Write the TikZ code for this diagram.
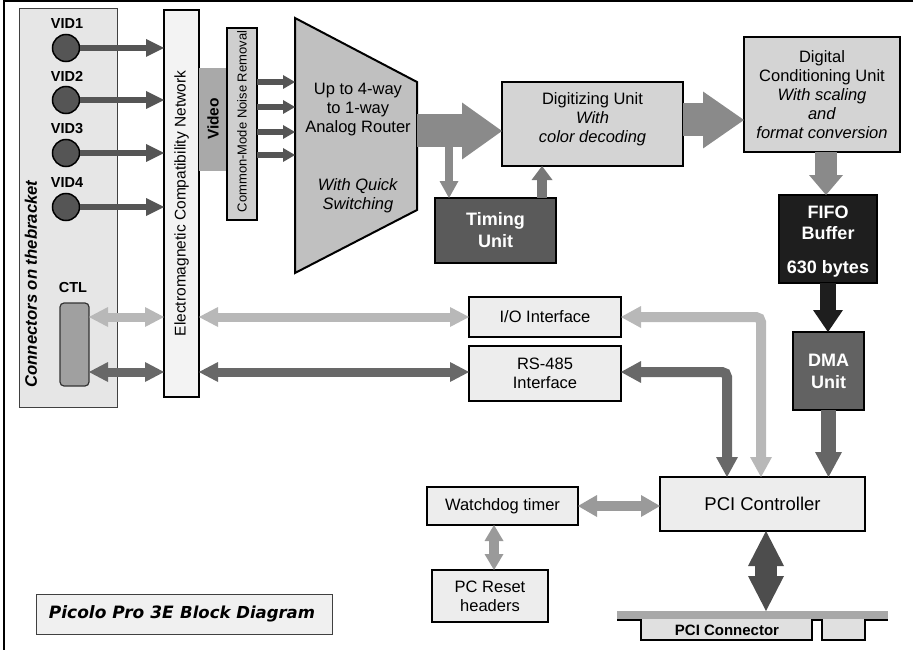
\documentclass[tikz,border=0pt]{standalone}
\usepackage{fontspec}
\setmainfont{Liberation Sans}
\newfontfamily\verdfont{DejaVu Sans}
\usetikzlibrary{arrows.meta,calc}

\definecolor{panelbg}{HTML}{E6E6E6}
\definecolor{emcc}{HTML}{F3F3F3}
\definecolor{boxlight}{HTML}{EDEDED}
\definecolor{boxmid}{HTML}{D4D4D4}
\definecolor{cmnrc}{HTML}{CFCFCF}
\definecolor{routerc}{HTML}{C0C0C0}
\definecolor{vband}{HTML}{A9A9A9}
\definecolor{circc}{HTML}{555555}
\definecolor{adark}{HTML}{555555}
\definecolor{amid}{HTML}{8A8A8A}
\definecolor{atim}{HTML}{777777}
\definecolor{alight}{HTML}{B8B8B8}
\definecolor{ars}{HTML}{686868}
\definecolor{awd}{HTML}{9A9A9A}
\definecolor{apci}{HTML}{4D4D4D}
\definecolor{adma}{HTML}{666666}
\definecolor{timingc}{HTML}{5A5A5A}
\definecolor{fifoc}{HTML}{1E1E1E}
\definecolor{dmac}{HTML}{626262}
\definecolor{ctlc}{HTML}{A0A0A0}
\definecolor{barc}{HTML}{A8A8A8}
\definecolor{tabc}{HTML}{E0E0E0}
\definecolor{titlec}{HTML}{F0F0F0}

\tikzset{
  fat/.style n args={4}{color=#1, line width=#2,
    -{Triangle[width=#3, length=#4, line width=0pt]}},
  fatt/.style n args={4}{color=#1, line width=#2,
    {Triangle[width=#3, length=#4, line width=0pt]}-{Triangle[width=#3, length=#4, line width=0pt]}},
  unit/.style={draw=black, line width=2pt, align=center},
}

\begin{document}
\begin{tikzpicture}[x=1pt, y=-1pt,
  every node/.style={inner sep=0pt, outer sep=0pt, font=\fontsize{16.5}{19}\selectfont}]
\useasboundingbox (0,0) rectangle (913,650);

% page frame
\draw[line width=1.2pt] (4,650) -- (4,1) -- (913,1);

% connector bracket
\node[draw=black!75, line width=1pt, fill=panelbg, minimum width=98pt, minimum height=398pt] (panel) at (68,208) {};
\node[rotate=90, font=\bfseries\itshape\fontsize{16.7}{19}\selectfont] (paneltitle) at (31,284) {Connectors on thebracket};

% EMC network
\node[unit, fill=emcc, minimum width=35pt, minimum height=387pt] (emc) at (181.5,203.5) {};
\node[rotate=90, font=\fontsize{15.5}{18}\selectfont] (emctext) at (emc.center) {Electromagnetic Compatibility Network};

% video inputs
\foreach \i/\y in {1/48,2/100,3/153,4/207} {
  \node[font=\bfseries\fontsize{14.5}{17}\selectfont] (vidlabel\i) at (67,\y-24) {VID\i};
  \node[circle, draw=black, line width=1.5pt, fill=circc, minimum size=27pt] (vidjack\i) at (66,\y) {};
  \draw[fat={adark}{6pt}{18pt}{18pt}] (vidjack\i.east) -- (vidjack\i.east -| emc.west);
}

% control connector
\node[draw=black!80, line width=1.2pt, fill=ctlc, rounded corners=4pt, minimum width=29pt, minimum height=83pt] (ctl) at (74.5,344.5) {};
\node[font=\bfseries\fontsize{14.5}{17}\selectfont] (ctllabel) at (73,288) {CTL};

% video band and noise removal
\fill[vband] (199,68) rectangle (227,171);
\node[rotate=90, font=\bfseries\fontsize{15.5}{18}\selectfont] (video) at (213,119) {Video};
\node[unit, fill=cmnrc, minimum width=30pt, minimum height=192pt] (cmnr) at (242,124) {};
\node[rotate=90, font=\fontsize{13}{15}\selectfont] (cmnrtext) at (242,121.5) {Common-Mode Noise Removal};

% analog router
\draw[line width=2pt, fill=routerc, line join=miter] (295,18) -- (417,82) -- (417,210) -- (295,273) -- cycle;
\node[align=center] (router) at (358,148) {Up to 4-way\\to 1-way\\Analog Router\\[39pt]\textit{With Quick}\\\textit{Switching}};
\foreach \i/\y in {1/82,2/107,3/132,4/155} {
  \coordinate (rtrin\i) at (295,\y);
  \draw[fat={adark}{5.5pt}{14pt}{12pt}] (cmnr.east |- rtrin\i) -- (rtrin\i);
}
\coordinate (rtrout) at (417,131);

% digitizing and timing
\node[unit, fill=boxmid, minimum width=181pt, minimum height=84pt] (digit) at (592.5,124) {};
\node[align=center] (digittext) at (592.5,119) {Digitizing Unit\\\textit{With}\\\textit{color decoding}};
\node[unit, fill=timingc, text=white, font=\bfseries\fontsize{18}{22}\selectfont, minimum width=121pt, minimum height=65pt] (timing) at (495.5,230.5) {Timing\\Unit};

\draw[fat={amid}{33pt}{57pt}{40pt}] (rtrout) -- (rtrout -| digit.west);
\coordinate (tap) at (449,131);
\draw[fat={amid}{8pt}{19pt}{17pt}] (tap) -- (tap |- timing.north);
\coordinate (tu) at ($(timing.north)+(46.5,0)$);
\draw[fat={atim}{10pt}{21pt}{14pt}] (tu) -- (tu |- digit.south);

% digital conditioning, FIFO, DMA
\node[unit, fill=boxmid, minimum width=156pt, minimum height=115pt] (dcu) at (822,94.5) {Digital\\Conditioning Unit\\\textit{With scaling}\\\textit{and}\\\textit{format conversion}};
\node[unit, fill=fifoc, minimum width=98pt, minimum height=88pt] (fifo) at (828,239) {};
\node[align=center, text=white, font=\bfseries\fontsize{18}{21}\selectfont] (fifotext) at (828,241.5) {FIFO\\Buffer\\[13pt]630 bytes};
\node[unit, fill=dmac, text=white, font=\bfseries\fontsize{18}{22}\selectfont, minimum width=71pt, minimum height=78pt] (dma) at (828.5,371) {DMA\\Unit};

\coordinate (dgout) at ($(digit.east)+(0,-4)$);
\draw[fat={amid}{33pt}{57pt}{41pt}] (dgout) -- (dgout -| dcu.west);
\coordinate (df) at ($(fifo.north)+(-2,0)$);
\draw[fat={amid}{22pt}{34pt}{20pt}] (df |- dcu.south) -- (df);
\draw[fat={fifoc}{16pt}{30pt}{22pt}] (fifo.south) -- (fifo.south |- dma.north);

% interfaces
\node[unit, fill=boxlight, minimum width=152pt, minimum height=40pt] (io) at (545,317) {I/O Interface};
\node[unit, fill=boxlight, minimum width=152pt, minimum height=55pt] (rs) at (545,373.5) {RS-485\\Interface};

% PCI controller, watchdog, reset
\node[unit, fill=boxlight, font=\fontsize{18.5}{21}\selectfont, minimum width=205pt, minimum height=54pt] (pcictl) at (762.5,504) {PCI Controller};
\node[unit, fill=boxlight, minimum width=151pt, minimum height=38pt] (wd) at (502.5,506) {Watchdog timer};
\node[unit, fill=boxlight, minimum width=116pt, minimum height=52pt] (reset) at (490,596) {PC Reset\\headers};

\draw[fat={adma}{15pt}{27pt}{25pt}] (dma.south) -- (dma.south |- pcictl.north);

% control and I/O links
\draw[fatt={alight}{9pt}{20pt}{19pt}] (ctl.east |- io.west) -- (emc.west |- io.west);
\draw[fatt={alight}{9pt}{20pt}{19pt}] (emc.east |- io.west) -- (io.west);
\coordinate (rsline) at ($(rs.west)+(0,-1.5)$);
\draw[fatt={ars}{9pt}{20pt}{19pt}] (ctl.east |- rsline) -- (emc.west |- rsline);
\draw[fatt={ars}{9pt}{20pt}{19pt}] (emc.east |- rsline) -- (rsline);

\coordinate (ioL) at ($(pcictl.north)+(-1.5,0)$);
\draw[fatt={alight}{10pt}{22pt}{20pt}, rounded corners=5pt] (io.east) -| (ioL);
\coordinate (rsL) at ($(pcictl.north)+(-35.5,0)$);
\draw[fatt={ars}{10pt}{22pt}{20pt}, rounded corners=5pt] (rsline -| rs.east) -| (rsL);

\draw[fatt={awd}{10pt}{22pt}{19pt}] (wd.east) -- (wd.east -| pcictl.west);
\coordinate (wr) at ($(reset.north)+(4,0)$);
\draw[fatt={awd}{10pt}{19pt}{16pt}] (wr |- wd.south) -- (wr);

% PCI edge connector
\node[fill=barc, minimum width=271pt, minimum height=8pt] (pcibar) at (752.5,615) {};
\fill[tabc] (641,619) rectangle (812,640);
\fill[tabc] (822,619) rectangle (865,640);
\draw[line width=1.5pt] (617,620) -- (641,620) -- (641,640) -- (812,640) -- (812,620) -- (822,620) -- (822,640) -- (865,640) -- (865,620) -- (888,620);
\node[font=\bfseries\fontsize{15}{18}\selectfont] (pciconn) at (727,630) {PCI Connector};
\coordinate (pa) at ($(pcictl.south)+(3.5,0)$);
\draw[fatt={apci}{22pt}{36pt}{35pt}] (pa) -- (pa |- pcibar.north);

% caption
\node[draw=black!75, line width=1pt, fill=titlec, minimum width=296pt, minimum height=40pt] (title) at (184,614) {};
\node[font=\verdfont\bfseries\itshape] (titletext) at (182,614) {{\fontsize{17}{20}\selectfont Picolo Pro 3E}\hspace{3pt} {\fontsize{16.5}{20}\selectfont Block Diagram}};
\end{tikzpicture}
\end{document}
